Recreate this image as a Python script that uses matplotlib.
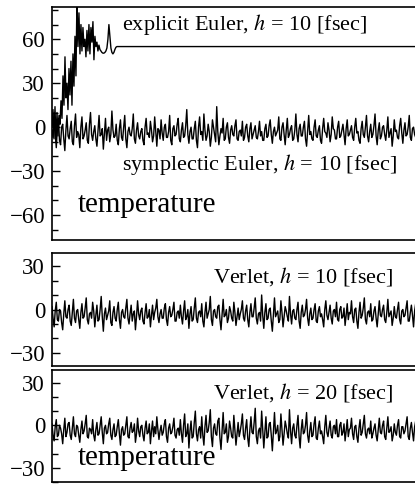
import numpy as np
import matplotlib
matplotlib.use("Agg")
import matplotlib.pyplot as plt
from matplotlib.ticker import MultipleLocator

plt.rcParams['font.family'] = ['Liberation Serif', 'DejaVu Serif']
plt.rcParams['mathtext.fontset'] = 'stix'

# ---------------- data ----------------
# explicit Euler: samples every ~2.6 time units at the start, then flat
explicit_T = [0, 12, -8, 14, -10, 10, -6, 8, 2, 18, 6, 35, 15, 48, 20, 30, 12, 40, 22, 45,
              15, 50, 28, 62, 35, 88, 55, 78, 50, 70, 52, 68, 55, 60, 48, 66, 52, 70, 50, 68,
              58, 72, 46, 62, 55, 58, 52, 56, 53, 52, 51, 50.5, 50.5, 51, 52, 54, 60, 70, 62, 54,
              51, 50, 51, 53, 54.5, 55, 55]
explicit_dt = 2.6
explicit_end_time = 1000
explicit_end_T = 55

symplectic_T = [
    -2, -7, 10, -3, -14, -1, 6, -9, -12, 0, 2, -8, -16, -2, 8, -6, -8, -1, 4, -10,
    -12, 1, 9, -7, -3, -5, -14, 0, 7, -8, -6, -2, 3, -9, -11, 2, 10, -5, -9, -3,
    1, -8, -13, -2, 8, -6, -5, -1, -15, -4, 6, -9, -2, 0, -10, -5, 11, -2, -7, -6,
    2, -9, -12, -1, 5, -7, -9, 0, 8, -8, -14, -3, 0, -5, -6, -1, 9, -8, -11, -2,
    3, -6, -8, -3, -1, -9, -12, 0, 6, -5, -4, -7, 4, -2, -10, -6, 7, -3, -13, -1,
    -2, -8, 5, -4, -9, 0, 2, -7, -7, -3, 8, -9, -12, -1, 1, -6, -5, 2, 6, -8,
    -10, -2, 3, -7, -6, 1, 12, -5, -11, -3, 0, -8, -8, -1, 4, -9, -14, 0, 7, -5,
    -3, -9, 9, -2, -9, -6, 2, -3, -13, -7, 5, 0, -5, -10, 14, -3, -12, -6, -1, -4,
    6, -9, -8, 0, 3, -7, -11, -2, 1, -5, -6, 1, 5, -8, -9, -3, -2, -6, 4, -9,
    -7, 0, 2, -6, -10, -1, 3, -8, -5, -2, 1, -7, -8, -3, 4, -6, -3, -9, -9, -1,
    2, -7, -6, 1, 5, -5, -11, -3, 0, -6, -4, -2, 7, -8, -9, 0, 3, -5, -12, -2,
    6, -7, -5, -1, 1, -9, -8, -2, 9, -5, -10, -1, 2, -6, -6, 0, 4, -8, -13, -3,
    8, -5, -3, -8, -9, 0, 5, -6, -7, -2, 1, -9, -11, -1, 6, -3, -4, -7, 3, -2,
    -10, -5, 7, -1, -2, -8, -8, 0, 4, -7, -6, -2, 2, -5, -12, -1, 5, -6, -5, -2,
    1, -7, -9, 0, 6, -4, -3, -9, -11, -1, 4, -5, -7, 0, 8, -6, -10, -3, 2, -7,
    -5, 1, 9, -6, -12, -2, 3, -8, -6, 0, 1, -5, -9, -2, 7, -7, -4, -1, -13, -6,
    5, -3, -2, -7, -8, 1, 6, -4, -11, -2, 3, -6, -5, 0, 8, -7, -9, -1, 0, -5,
    -7, -2, 4, -8, -12, 0, 6, -5, -3, -8, 2, -1, -10, -4, 7, -3, -6, -2, 1, -6]

verlet10_T = [
    2, -6, -12, -1, 5, -7, -8, 0, -1, -9, -14, -3, 6, -5, -6, 0, 3, -8, -11, -2,
    7, -6, -9, -1, 0, -7, -13, -2, 4, -6, -5, 1, 8, -7, -10, -3, -2, -6, 5, -1,
    -12, -4, 3, -8, -7, 0, 9, -5, -15, -3, 1, -7, -4, -1, 6, -9, -11, -2, 2, -6,
    -8, 0, 5, -7, -13, -2, 0, -5, -6, 1, 7, -6, -10, -3, 3, -8, -3, -1, -14, -5,
    6, -3, -7, -1, 1, -8, -10, -2, 4, -6, -5, 0, -12, -4, 3, -7, -2, 1, 7, -5,
    -9, -3, 0, -6, -6, 1, 4, -7, -11, -2, 2, -5, -4, 0, 5, -8, -8, -2, -1, -6,
    3, -5, -10, -1, 6, -7, -5, 0, -13, -3, 2, -8, -7, 1, 8, -6, -9, -2, -1, -5,
    4, -8, -12, -2, 5, -6, -3, 0, 9, -7, -11, -1, 0, -5, -6, 2, 3, -7, -14, -3,
    7, -5, -4, 0, -9, -6, 2, -1, -6, -8, 5, -2, -11, -5, 1, -7, -3, 0, 6, -6,
    -8, -1, 3, -7, -12, -2, 4, -5, -5, 1, 8, -6, -10, -3, -2, -8, 10, -4, -13, -2,
    4, -7, -6, 0, 1, -8, -15, -3, 8, -5, -3, -1, -9, -7, 6, -2, -12, -5, 2, -1,
    -5, -8, 9, -3, -10, -1, 0, -6, -7, 0, 5, -8, -13, -2, 3, -5, -4, 0, 7, -6,
    -11, -3, 1, -7, -6, 0, 4, -8, -9, -1, 2, -5, -3, -7, -12, 0, 6, -4, -7, -2,
    3, -6, -10, -1, 0, -5, 5, -7, -8, 0, 2, -6, -5, 1, -11, -4, 4, -7, -2, -3,
    6, -5, -9, 0, 1, -8, -13, -2, 5, -6, -4, 1, 8, -7, -10, -2, -1, -5, 4, -8,
    -7, -1, 2, -6, -12, -3, 6, -4, -5, 0, 3, -7, -9, -2, 7, -5, -3, -1, -11, -6,
    2, -5, -6, 0, 5, -7, -10, -1, 0, -5, -4, 1, 6, -8, -8, -2, 3, -4, -12, -1,
    4, -6, -5, -2, 1, -8, -9, 0, 7, -5, -3, -8, -10, 0, 2, -4, -6, -1, 4, -5]

verlet20_T = [
    1, -7, -11, -1, 4, -8, -7, 0, -2, -6, -13, -3, 5, -8, -5, 1, 2, -7, -10, -2,
    6, -6, -8, 0, -1, -7, -12, -3, 3, -6, -4, 1, 7, -8, -9, -2, -3, -6, 4, -7,
    -11, -3, 2, -7, -6, 0, 6, -5, -13, -2, 0, -6, -5, 1, 5, -7, -10, -3, 1, -8,
    -7, -1, 4, -6, -14, -3, -1, -7, -6, 0, 6, -8, -9, -2, 2, -5, -4, 1, -12, -6,
    5, -4, -8, -1, 0, -7, -11, -2, 3, -6, -5, 1, -13, -4, 3, -8, -1, -6, 6, -3,
    -10, -4, 0, -7, -5, 1, 4, -8, -12, -2, 1, -6, -5, -1, 5, -7, -9, -3, -2, -7,
    4, -6, -12, 0, 8, -8, -6, 1, -16, -4, 3, -9, -8, 2, 10, -6, -11, -3, -1, -9,
    6, -7, -14, -1, 7, -5, -4, 2, 11, -8, -15, -2, 1, -6, -7, 3, 5, -9, -17, -4,
    9, -6, -5, 1, -12, -8, 3, -2, -8, -9, 7, -3, -14, -6, 2, -8, -4, 1, 8, -7,
    -10, -2, 4, -9, -15, -3, 6, -5, -6, 2, 12, -8, -13, -4, -2, -9, 10, -3, -16, -5,
    6, -9, -8, 1, 2, -7, -18, -4, 9, -6, -4, 0, -11, -8, 8, -3, -14, -6, 3, -1,
    -6, -9, 11, -4, -13, -2, 1, -7, -9, 0, 7, -8, -16, -3, 4, -6, -5, 0, 9, -7,
    -12, -4, 2, -8, -7, 1, 6, -9, -10, -2, 3, -6, -4, -8, -13, -1, 7, -5, -8, -2,
    3, -7, -9, -1, 0, -6, 4, -8, -8, 0, 2, -7, -5, 1, -11, -4, 4, -8, -3, -2,
    5, -6, -10, -1, 0, -8, -12, -2, 4, -7, -5, 1, 7, -6, -9, -3, -2, -6, 3, -9,
    -6, -2, 1, -7, -11, -3, 5, -5, -6, 0, 3, -8, -10, -2, 6, -5, -4, -1, -11, -7,
    1, -5, -7, 0, 4, -8, -9, -1, -1, -6, -4, 1, 6, -8, -10, -2, 2, -5, -11, -1,
    3, -7, -6, -2, 0, -9, -10, 0, 6, -6, -4, -8, -11, 0, 1, -5, -7, -1, 3, -6]

time_max = 1000
top_ticks = [-60, -30, 0, 30, 60]
small_ticks = [-30, 0, 30]
labels = ["explicit Euler, $h$ = 10 [fsec]",
          "symplectic Euler, $h$ = 10 [fsec]",
          "Verlet, $h$ = 10 [fsec]",
          "Verlet, $h$ = 20 [fsec]",
          "temperature"]

# ---------------- figure ----------------
W, H = 415, 484
fig = plt.figure(figsize=(W / 100, H / 100), dpi=100)

def px_axes(left, top, right, bottom):
    return fig.add_axes([left / W, 1 - bottom / H, (right - left) / W, (bottom - top) / H])

ax1 = px_axes(52, 7, 436, 240)
ax2 = px_axes(52, 253, 436, 366)
ax3 = px_axes(52, 370, 436, 482)

def style(ax, ylim, ticks):
    ax.set_xlim(0, time_max)
    ax.set_ylim(*ylim)
    ax.set_yticks(ticks)
    ax.yaxis.set_minor_locator(MultipleLocator(10))
    ax.set_xticks([])
    ax.tick_params(axis='y', which='major', direction='in', length=6, width=1.0,
                   labelsize=16.5, pad=5)
    ax.tick_params(axis='y', which='minor', direction='in', length=4, width=1.0)
    ax.set_yticklabels([str(t).replace('-', '\u2212') for t in ticks])
    for s in ax.spines.values():
        s.set_linewidth(1.2)

lw = 1.0
# top panel
t_exp = np.arange(len(explicit_T)) * explicit_dt
t_exp = np.append(t_exp, explicit_end_time)
T_exp = np.append(explicit_T, explicit_end_T)
ax1.plot(t_exp, T_exp, color='black', lw=lw)
ax1.plot(np.linspace(0, time_max, len(symplectic_T)), symplectic_T, color='black', lw=lw)
style(ax1, (-77, 82), top_ticks)

ax2.plot(np.linspace(0, time_max, len(verlet10_T)), verlet10_T, color='black', lw=lw)
style(ax2, (-39, 39), small_ticks)

ax3.plot(np.linspace(0, time_max, len(verlet20_T)), verlet20_T, color='black', lw=lw)
style(ax3, (-40, 39), small_ticks)

fs = 16
ax1.text(0.182, 0.923, labels[0], transform=ax1.transAxes, fontsize=fs, va='center', ha='left')
ax1.text(0.182, 0.322, labels[1], transform=ax1.transAxes, fontsize=fs, va='center', ha='left')
ax1.text(0.068, 0.150, labels[4], transform=ax1.transAxes, fontsize=21, va='center', ha='left')
ax2.text(0.419, 0.788, labels[2], transform=ax2.transAxes, fontsize=fs, va='center', ha='left')
ax3.text(0.419, 0.795, labels[3], transform=ax3.transAxes, fontsize=fs, va='center', ha='left')
ax3.text(0.068, 0.214, labels[4], transform=ax3.transAxes, fontsize=21, va='center', ha='left')

fig.savefig("out.png", dpi=100)
